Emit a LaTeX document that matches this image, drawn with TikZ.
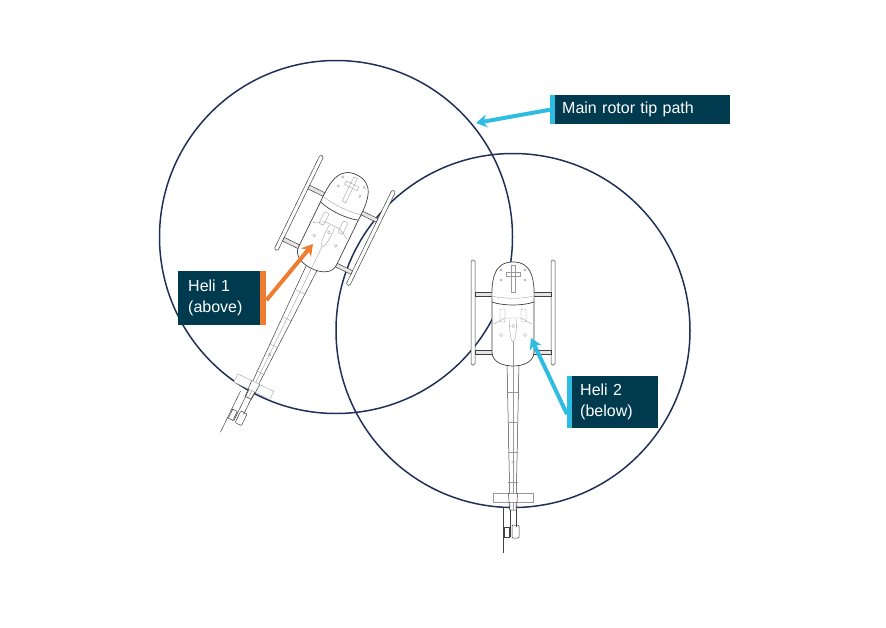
\documentclass[tikz,border=0pt]{standalone}
\usepackage{fontspec}
\setmainfont{Liberation Sans}
\begin{document}
\begin{tikzpicture}[x=1pt,y=-1pt,
  rotor/.style={draw=rotorc,line width=1.5pt},
  lbl/.style={fill=boxc,text=white,align=left,font=\fontsize{16}{21}\selectfont},
  ln/.style={draw=black!75,line width=0.5pt},
  lf/.style={draw=black!40,line width=0.35pt},
  arr/.style={line width=4pt,-{Stealth[length=11pt,width=13pt]}}]
\definecolor{rotorc}{HTML}{1F3158}
\definecolor{boxc}{HTML}{003A4F}
\definecolor{cyanc}{HTML}{2FBCE3}
\definecolor{orangec}{HTML}{EE7D31}
\usetikzlibrary{arrows.meta}
\useasboundingbox (0,0) rectangle (886,627);
\tikzset{heli/.pic={
  % skids
  \draw[ln,fill=white,rounded corners=1.5] (-42,-2) rectangle (-38,103);
  \draw[ln,fill=white,rounded corners=1.5] (38,-2) rectangle (42,103);
  \draw[ln,fill=black!10] (-38,30) rectangle (38,34);
  \draw[ln,fill=black!10] (-38,88) rectangle (38,92);
  % boom
  \draw[ln,fill=white] (-6,100) -- (-3,248) -- (3,248) -- (6,100);
  \draw[lf] (0,100) -- (0,248);
  \foreach \yy in {130,160,190,220} \draw[lf] (-5,\yy) -- (5,\yy);
  \draw[lf] (0,200) circle (1.5);
  % stabilizer
  \draw[lf,fill=white] (-20,231) rectangle (20,240);
  \draw[ln] (-4.5,231) -- (-3.5,248) (4.5,231) -- (3.5,248);
  % tail rotor
  \draw[ln] (-10,245) -- (-10,291);
  \draw[ln,fill=white] (-9,265) rectangle (-4,275);
  \draw[ln,fill=white,rounded corners=1] (-1,263) rectangle (6,276);
  \draw[ln] (-3,248) -- (-3,275) (3,248) -- (3,265);
  % cabin
  \draw[ln,line width=0.7pt,fill=white] (0,0) .. controls (-18,0) and (-22,15) .. (-21,40)
     -- (-21,90) .. controls (-21,100) and (-10,104) .. (0,104)
     .. controls (10,104) and (21,100) .. (21,90) -- (21,40)
     .. controls (22,15) and (18,0) .. (0,0) -- cycle;
  \draw[ln,line width=0.7pt] (-21,40) .. controls (-10,44) and (10,44) .. (21,40);
  \draw[lf] (-21,34) .. controls (-10,37) and (10,37) .. (21,34);
  \draw[lf] (-2,3) rectangle (2,30);
  \draw[lf] (-7,10) rectangle (7,14);
  \draw[lf] (-12,18) circle (1.2) (12,18) circle (1.2) (-12,8) circle (1.2) (12,8) circle (1.2);
  \draw[lf,rounded corners=1] (-13,47) rectangle (-8,60) (8,47) rectangle (13,60);
  \draw[lf] (-19,62) -- (-8,56) -- (8,56) -- (19,62);
  \draw[lf] (-3,57) .. controls (-4,66) and (-3,78) .. (0,80) .. controls (3,78) and (4,66) .. (3,57);
  \draw[lf] (0,64) circle (1.5) (-12,73) circle (1.5) (12,73) circle (1.5);
  \draw[lf] (0,80) -- (0,104);
}}
% rotor circles
\draw[rotor] (336,237) circle (176.5);
\draw[rotor] (513,330.5) circle (177);
% helicopters
\pic[rotate=-26] at (357,175) {heli};
\pic at (513,262) {heli};
% labels
\node[lbl,anchor=north west,minimum width=180pt,minimum height=29pt,inner sep=0pt,text width=180pt] (main) at (550,95) {\hspace*{12pt}Main rotor tip path};
\fill[cyanc] (550,95) rectangle (555,124);
\node[lbl,anchor=north west,minimum width=88pt,minimum height=54pt,inner sep=0pt,text width=88pt] (h1) at (178,271) {\hspace*{10pt}\parbox[c]{75pt}{Heli 1\\(above)}};
\fill[orangec] (260,271) rectangle (266,325);
\node[lbl,anchor=north west,minimum width=91pt,minimum height=52pt,inner sep=0pt,text width=91pt] (h2) at (567,376) {\hspace*{13pt}\parbox[c]{75pt}{Heli 2\\(below)}};
\fill[cyanc] (567,376) rectangle (572,428);
\coordinate (t0) at (476,123);
\coordinate (t1) at (313,244);
\coordinate (t2) at (531,338);
\draw[arr,cyanc] (main.west) -- (t0);
\draw[arr,orangec] ([yshift=-2pt]h1.east) -- (t1);
\draw[arr,cyanc] ([yshift=-12pt]h2.west) -- (t2);
\end{tikzpicture}
\end{document}
